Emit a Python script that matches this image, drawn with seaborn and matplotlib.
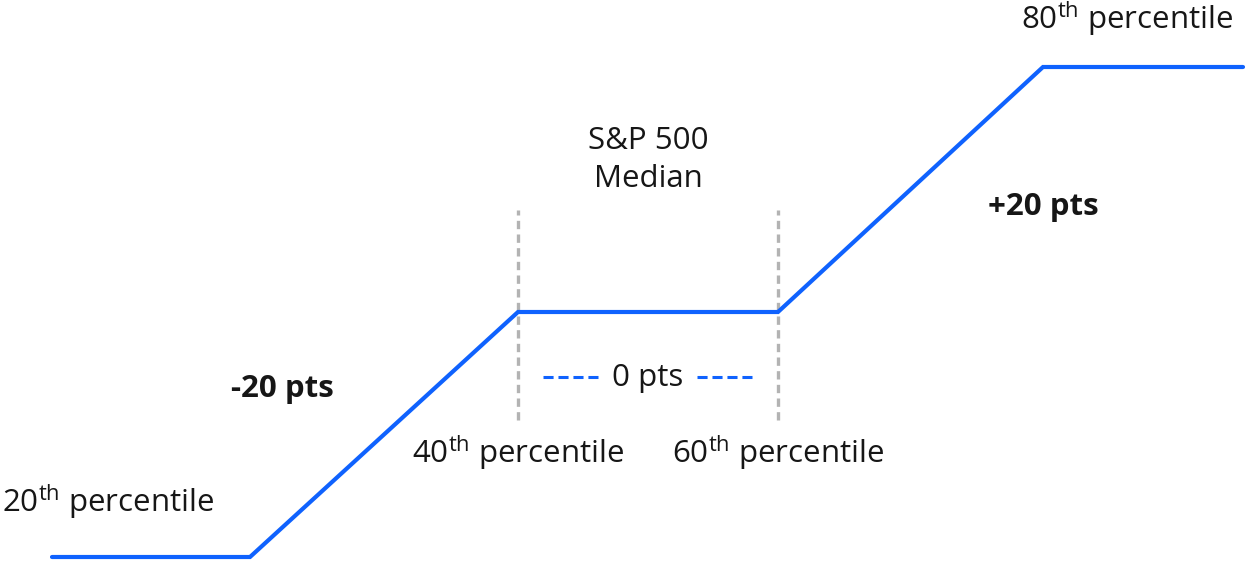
import matplotlib
matplotlib.use("Agg")
import matplotlib.pyplot as plt
import seaborn as sns
import pandas as pd

# Data (x in chart units, y in score points relative to S&P 500 median)
knot_x = [52, 250, 518, 778, 1043, 1243]
knot_y = [-20, -20, 0, 0, 20, 20]
boundary_x = [518, 778]
labels = ["20$^{\\mathrm{th}}$ percentile", "40$^{\\mathrm{th}}$ percentile",
          "60$^{\\mathrm{th}}$ percentile", "80$^{\\mathrm{th}}$ percentile"]
label_x = [108, 518, 778, 1127]
label_y = [-15.5, -11.5, -11.5, 24.0]
change_labels = ["-20 pts", "0 pts", "+20 pts"]
change_x = [282, 648, 1043]
change_y = [-6.3, -5.4, 8.6]

sns.set_theme(style="white")
FONT = 'Open Sans'
plt.rcParams['font.family'] = [FONT, 'DejaVu Sans']
plt.rcParams['mathtext.fontset'] = 'custom'
plt.rcParams['mathtext.rm'] = FONT

BLUE = "#0f62fe"
TXT = "#161616"
px = 245 / 20.0  # pixels per point

fig = plt.figure(figsize=(12.47, 5.64), dpi=100)
ax = fig.add_axes([0, 0, 1, 1])
ax.set_xlim(0, 1247)
ax.set_ylim(-20 - 7 / px, 20 + 67 / px)
ax.axis("off")

df = pd.DataFrame({"x": knot_x, "y": knot_y})
sns.lineplot(data=df, x="x", y="y", ax=ax, color=BLUE, linewidth=3.0,
             sort=False, estimator=None, solid_joinstyle="miter")

for bx in boundary_x:
    ax.plot([bx, bx], [(312 - 420) / px, (312 - 210) / px], color="#b3b3b3",
            linewidth=2.4, linestyle=(0, (2.5, 1.6)), zorder=1)

fs = 22.5
for t, x, y in zip(labels, label_x, label_y):
    ax.text(x, y, t, ha="center", va="center", fontsize=fs, color=TXT)

ax.text(648, (312 - 160) / px, "S&P 500\nMedian", ha="center", va="center",
        fontsize=fs, color=TXT, linespacing=1.38)

for t, x, y in zip(change_labels, change_x, change_y):
    ax.text(x, y, t, ha="center", va="center", fontsize=fs, color=TXT,
            fontweight="normal" if t == "0 pts" else "bold")

yz = (312 - 377) / px
ax.plot([543, 600], [yz, yz], color=BLUE, linewidth=2.2, linestyle=(0, (3.3, 1.6)))
ax.plot([697, 755], [yz, yz], color=BLUE, linewidth=2.2, linestyle=(0, (3.3, 1.6)))

fig.savefig("out.png", dpi=100)
